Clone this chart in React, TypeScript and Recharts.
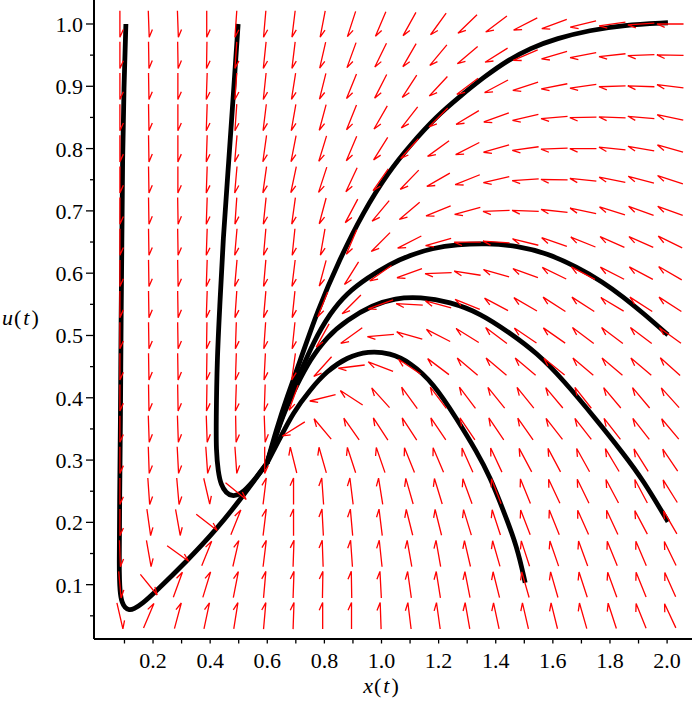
import React from 'react';
import { ComposedChart, XAxis, YAxis, Scatter, Line, Label } from 'recharts';

const FONT = 'Liberation Serif, Times New Roman, DejaVu Serif, serif';

const X_MIN = -0.0067;
const X_MAX = 2.0872;
const Y_MIN = 0.0128;
const Y_MAX = 1.0385;

// direction-field grid (column x positions, row u positions)
const arrowX = [0.084, 0.185, 0.287, 0.388, 0.49, 0.591, 0.692, 0.794, 0.895, 0.997, 1.098, 1.199, 1.301, 1.402, 1.504, 1.605, 1.706, 1.808, 1.909, 2.011];
const arrowU = [1.0, 0.95, 0.9, 0.85, 0.8, 0.75, 0.7, 0.65, 0.6, 0.55, 0.5, 0.45, 0.4, 0.35, 0.3, 0.25, 0.2, 0.15, 0.1, 0.05];

// arrow directions in degrees (0 = right, 90 = up), one row per arrowU value
const arrowAngle: number[][] = [
  [270, 272, 272, 270, 266, 265, 263, 259, 252, 247, 241, 234, 224, 217, 207, 200, 194, 188, 184, 180],
  [270, 271, 271, 269, 266, 264, 263, 257, 250, 244, 240, 230, 220, 212, 203, 196, 191, 186, 182, 179],
  [270, 271, 270, 268, 266, 264, 261, 256, 248, 243, 237, 227, 217, 208, 198, 191, 188, 182, 178, 173],
  [270, 271, 270, 268, 266, 263, 260, 255, 248, 240, 232, 225, 211, 200, 193, 185, 181, 178, 175, 168],
  [270, 271, 270, 268, 265, 262, 259, 253, 247, 238, 228, 216, 207, 196, 188, 182, 180, 174, 170, 164],
  [270, 271, 270, 268, 265, 262, 258, 252, 245, 235, 226, 210, 202, 193, 184, 179, 174, 169, 165, 162],
  [270, 271, 271, 268, 266, 264, 262, 255, 242, 230, 220, 202, 195, 182, 178, 174, 168, 163, 160, 160],
  [270, 271, 271, 268, 265, 265, 264, 260, 247, 225, 207, 196, 180, 176, 166, 161, 158, 156, 156, 154],
  [270, 271, 271, 268, 265, 265, 263, 255, 238, 215, 200, 182, 171, 164, 160, 154, 152, 153, 152, 150],
  [270, 271, 271, 268, 266, 265, 264, 248, 225, 200, 177, 165, 158, 152, 150, 147, 147, 149, 147, 147],
  [270, 271, 271, 269, 268, 266, 264, 241, 216, 185, 164, 153, 148, 143, 146, 145, 143, 143, 143, 144],
  [270, 271, 271, 269, 268, 267, 262, 228, 187, 159, 146, 143, 140, 140, 140, 141, 140, 140, 140, 138],
  [270, 271, 271, 269, 268, 268, 250, 194, 147, 132, 126, 127, 127, 129, 129, 130, 128, 130, 130, 132],
  [270, 272, 272, 272, 271, 272, 212, 130, 125, 123, 123, 124, 124, 124, 125, 128, 128, 128, 128, 130],
  [270, 272, 273, 274, 274, 270, 104, 106, 108, 109, 112, 113, 114, 115, 118, 118, 119, 121, 122, 124],
  [270, 274, 275, 283, 321, 83, 90, 94, 97, 99, 106, 107, 110, 111, 112, 115, 116, 118, 118, 122],
  [270, 278, 280, 322, 68, 83, 90, 93, 95, 97, 104, 104, 107, 108, 111, 112, 114, 115, 118, 120],
  [272, 280, 324, 68, 77, 83, 88, 92, 94, 96, 100, 100, 103, 106, 108, 109, 110, 112, 113, 116],
  [275, 309, 70, 73, 79, 85, 88, 89, 91, 93, 98, 99, 101, 104, 106, 106, 108, 110, 112, 114],
  [283, 67, 75, 78, 81, 85, 88, 90, 90, 92, 97, 98, 100, 102, 103, 104, 106, 108, 112, 115],
];

// trajectories
const curveA = [
  { x: 0.105, u: 1.0 }, { x: 0.098, u: 0.899 }, { x: 0.093, u: 0.782 }, { x: 0.091, u: 0.653 },
  { x: 0.088, u: 0.525 }, { x: 0.086, u: 0.36 }, { x: 0.083, u: 0.236 }, { x: 0.081, u: 0.124 },
  { x: 0.084, u: 0.088 }, { x: 0.091, u: 0.071 }, { x: 0.102, u: 0.063 }, { x: 0.116, u: 0.059 },
  { x: 0.133, u: 0.061 }, { x: 0.161, u: 0.069 }, { x: 0.207, u: 0.088 }, { x: 0.319, u: 0.138 },
  { x: 0.421, u: 0.188 }, { x: 0.515, u: 0.242 }, { x: 0.599, u: 0.295 },
];
const curveB = [
  { x: 0.498, u: 1.0 }, { x: 0.48, u: 0.878 }, { x: 0.463, u: 0.766 }, { x: 0.445, u: 0.653 },
  { x: 0.435, u: 0.557 }, { x: 0.424, u: 0.461 }, { x: 0.421, u: 0.36 }, { x: 0.421, u: 0.316 },
  { x: 0.428, u: 0.281 }, { x: 0.438, u: 0.26 }, { x: 0.456, u: 0.247 }, { x: 0.477, u: 0.242 },
  { x: 0.505, u: 0.244 }, { x: 0.55, u: 0.265 }, { x: 0.599, u: 0.295 },
];
const curveC = [
  { x: 0.599, u: 0.295 }, { x: 0.631, u: 0.348 }, { x: 0.669, u: 0.401 }, { x: 0.715, u: 0.459 },
  { x: 0.774, u: 0.538 }, { x: 0.855, u: 0.624 }, { x: 0.935, u: 0.697 }, { x: 1.023, u: 0.762 },
  { x: 1.107, u: 0.809 }, { x: 1.191, u: 0.851 }, { x: 1.275, u: 0.884 }, { x: 1.362, u: 0.916 },
  { x: 1.443, u: 0.942 }, { x: 1.52, u: 0.961 }, { x: 1.614, u: 0.977 }, { x: 1.73, u: 0.99 },
  { x: 1.846, u: 0.998 }, { x: 2.003, u: 1.002 },
];
const curveD = [
  { x: 0.599, u: 0.295 }, { x: 0.634, u: 0.345 }, { x: 0.669, u: 0.392 }, { x: 0.715, u: 0.44 },
  { x: 0.76, u: 0.488 }, { x: 0.82, u: 0.536 }, { x: 0.879, u: 0.568 }, { x: 0.949, u: 0.592 },
  { x: 1.03, u: 0.615 }, { x: 1.1, u: 0.629 }, { x: 1.177, u: 0.64 }, { x: 1.264, u: 0.646 },
  { x: 1.369, u: 0.648 }, { x: 1.475, u: 0.644 }, { x: 1.58, u: 0.632 }, { x: 1.684, u: 0.61 },
  { x: 1.775, u: 0.586 }, { x: 1.846, u: 0.562 }, { x: 1.916, u: 0.536 }, { x: 2.003, u: 0.501 },
];
const curveE = [
  { x: 0.599, u: 0.295 }, { x: 0.627, u: 0.335 }, { x: 0.662, u: 0.38 }, { x: 0.704, u: 0.421 },
  { x: 0.75, u: 0.461 }, { x: 0.809, u: 0.498 }, { x: 0.879, u: 0.525 }, { x: 0.97, u: 0.549 },
  { x: 1.047, u: 0.56 }, { x: 1.135, u: 0.562 }, { x: 1.24, u: 0.554 }, { x: 1.345, u: 0.536 },
  { x: 1.45, u: 0.504 }, { x: 1.544, u: 0.472 }, { x: 1.636, u: 0.429 }, { x: 1.754, u: 0.364 },
  { x: 1.846, u: 0.311 }, { x: 1.916, u: 0.268 }, { x: 2.003, u: 0.201 },
];
const curveF = [
  { x: 0.599, u: 0.295 }, { x: 0.641, u: 0.332 }, { x: 0.69, u: 0.376 }, { x: 0.75, u: 0.413 },
  { x: 0.809, u: 0.443 }, { x: 0.879, u: 0.465 }, { x: 0.953, u: 0.475 }, { x: 1.03, u: 0.472 },
  { x: 1.1, u: 0.457 }, { x: 1.181, u: 0.424 }, { x: 1.264, u: 0.366 }, { x: 1.334, u: 0.313 },
  { x: 1.38, u: 0.273 }, { x: 1.426, u: 0.22 }, { x: 1.475, u: 0.161 }, { x: 1.503, u: 0.103 },
];
const curves = [curveA, curveB, curveC, curveD, curveE, curveF];

const xTicks = [0.1, 0.2, 0.3, 0.4, 0.5, 0.6, 0.7, 0.8, 0.9, 1.0, 1.1, 1.2, 1.3, 1.4, 1.5, 1.6, 1.7, 1.8, 1.9, 2.0];
const xLabelled = [0.2, 0.4, 0.6, 0.8, 1.0, 1.2, 1.4, 1.6, 1.8, 2.0];
const yTicks = [0.05, 0.1, 0.15, 0.2, 0.25, 0.3, 0.35, 0.4, 0.45, 0.5, 0.55, 0.6, 0.65, 0.7, 0.75, 0.8, 0.85, 0.9, 0.95, 1.0];
const yLabelled = [0.1, 0.2, 0.3, 0.4, 0.5, 0.6, 0.7, 0.8, 0.9, 1.0];

const arrowData: { x: number; u: number; a: number }[] = [];
arrowU.forEach((u, j) => {
  arrowX.forEach((x, i) => {
    arrowData.push({ x, u, a: arrowAngle[j][i] });
  });
});

const isIn = (list: number[], v: number) => list.some((t) => Math.abs(t - v) < 1e-9);

const textStyle: React.CSSProperties = { fontFamily: FONT, fontSize: '22px', fill: '#000' };

const ArrowShape = (props: any) => {
  const { cx, cy, payload } = props;
  if (cx == null || cy == null || !payload) return <g />;
  const a = (payload.a * Math.PI) / 180;
  const L = 13.3;
  const dx = Math.cos(a);
  const dy = -Math.sin(a);
  const tx = cx + L * dx;
  const ty = cy + L * dy;
  const sx = cx - L * dx;
  const sy = cy - L * dy;
  const b = a + Math.PI - (24 * Math.PI) / 180;
  const bx = tx + 8.5 * Math.cos(b);
  const by = ty - 8.5 * Math.sin(b);
  return (
    <path
      d={`M${sx},${sy}L${tx},${ty}L${bx},${by}`}
      stroke="#ff0000"
      strokeWidth={1.3}
      fill="none"
      strokeLinejoin="miter"
    />
  );
};

const XTick = (props: any) => {
  const { x, y, payload } = props;
  const v = payload.value;
  return (
    <g>
      <line x1={x} x2={x} y1={y} y2={y + 4.5} stroke="#000" strokeWidth={1.3} />
      {isIn(xLabelled, v) && (
        <text x={x} y={y + 29} textAnchor="middle" style={textStyle}>
          {v.toFixed(1)}
        </text>
      )}
    </g>
  );
};

const YTick = (props: any) => {
  const { x, y, payload } = props;
  const v = payload.value;
  const major = isIn(yLabelled, v);
  return (
    <g>
      <line x1={x - (major ? 8 : 4)} x2={x} y1={y} y2={y} stroke="#000" strokeWidth={1.3} />
      {major && (
        <text x={x - 11} y={y + 8} textAnchor="end" style={textStyle}>
          {v.toFixed(1)}
        </text>
      )}
    </g>
  );
};

const XName = (props: any) => {
  const vb = props.viewBox || { x: 94, y: 639, width: 598 };
  return (
    <text x={vb.x + vb.width * 0.48} y={vb.y + 54} textAnchor="middle" style={textStyle}>
      <tspan style={{ fontStyle: 'italic' }}>x</tspan>
      <tspan dx={1}>(</tspan>
      <tspan style={{ fontStyle: 'italic' }} dx={2}>t</tspan>
      <tspan dx={2}>)</tspan>
    </text>
  );
};

const YName = (props: any) => {
  const vb = props.viewBox || { x: 0, y: 0, height: 639 };
  return (
    <text x={2} y={vb.y + vb.height * 0.508} textAnchor="start" style={textStyle}>
      <tspan style={{ fontStyle: 'italic' }}>u</tspan>
      <tspan dx={1}>(</tspan>
      <tspan style={{ fontStyle: 'italic' }} dx={2}>t</tspan>
      <tspan dx={2}>)</tspan>
    </text>
  );
};

export default function App() {
  return (
    <div style={{ position: 'absolute', left: 0, top: 0, background: '#fff' }}>
      <ComposedChart width={692} height={701} margin={{ top: 0, right: 0, bottom: 0, left: 0 }}>
        <XAxis
          type="number"
          dataKey="x"
          domain={[X_MIN, X_MAX]}
          allowDataOverflow
          ticks={xTicks}
          interval={0}
          tick={<XTick />}
          tickLine={false}
          tickSize={0}
          tickMargin={0}
          axisLine={{ stroke: '#000', strokeWidth: 2 }}
          height={62}
        >
          <Label content={<XName />} />
        </XAxis>
        <YAxis
          type="number"
          dataKey="u"
          domain={[Y_MIN, Y_MAX]}
          allowDataOverflow
          ticks={yTicks}
          interval={0}
          tick={<YTick />}
          tickLine={false}
          tickSize={0}
          tickMargin={0}
          axisLine={{ stroke: '#000', strokeWidth: 2 }}
          width={94}
        >
          <Label content={<YName />} />
        </YAxis>
        <Scatter data={arrowData} dataKey="u" shape={ArrowShape} isAnimationActive={false} />
        {curves.map((c, k) => (
          <Line
            key={k}
            data={c}
            dataKey="u"
            type="basis"
            stroke="#000"
            strokeWidth={4.8}
            dot={false}
            activeDot={false}
            isAnimationActive={false}
            strokeLinecap="butt"
          />
        ))}
      </ComposedChart>
    </div>
  );
}
